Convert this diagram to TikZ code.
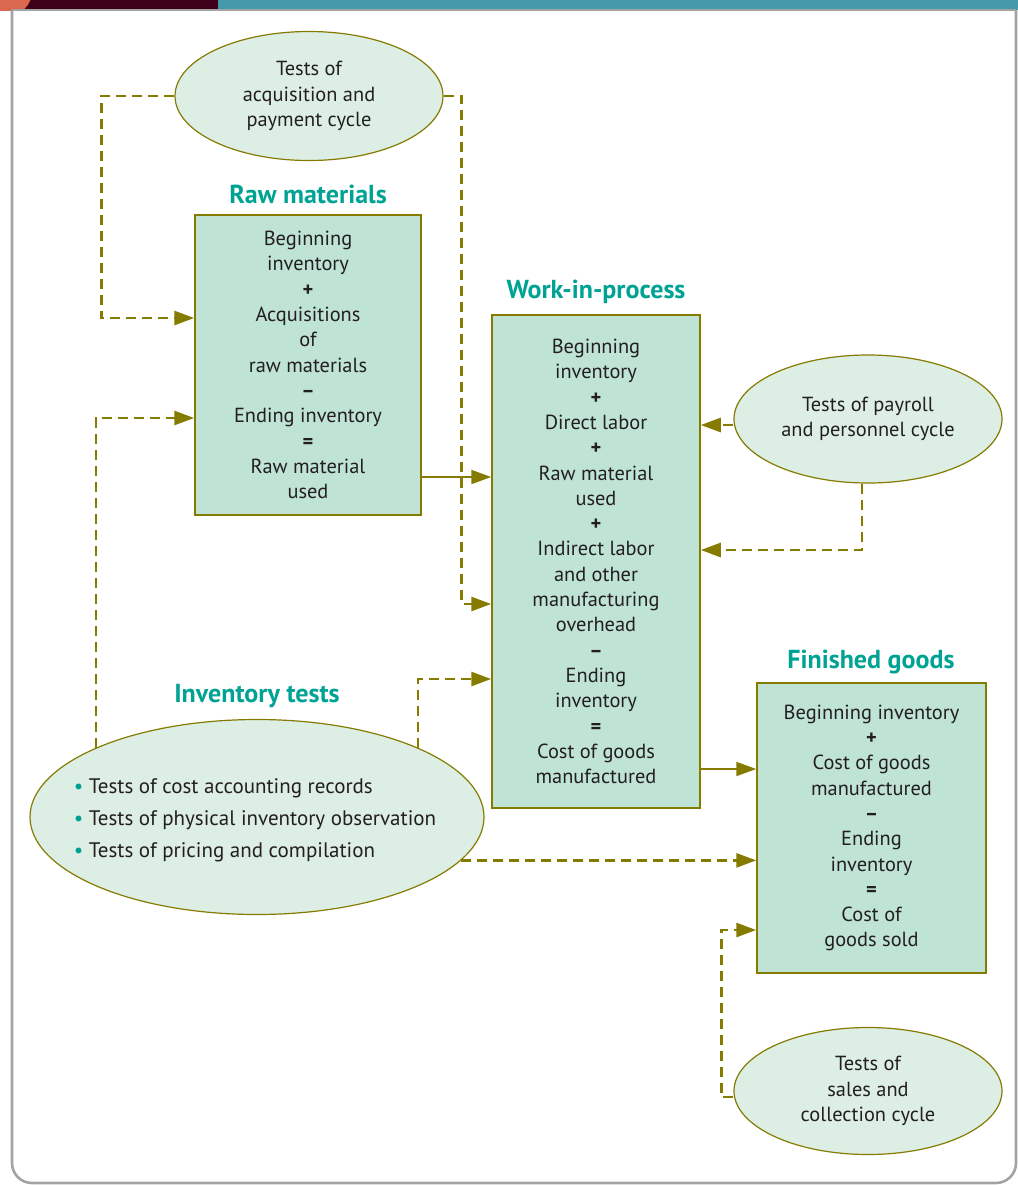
\documentclass[tikz,border=0pt]{standalone}
\usepackage{fontspec}
\setmainfont{PT Sans}
\usetikzlibrary{arrows.meta,shapes.geometric}
\definecolor{olivel}{HTML}{857B00}
\definecolor{boxfill}{HTML}{BFE3D5}
\definecolor{ellfill}{HTML}{DDEEE5}
\definecolor{tealt}{HTML}{00A393}
\definecolor{inkt}{HTML}{231F20}
\definecolor{maroonbar}{HTML}{3D0018}
\definecolor{tealbar}{HTML}{4499AA}
\definecolor{orangec}{HTML}{D9684F}
\definecolor{framegray}{HTML}{A3A3A3}

\begin{document}
\begin{tikzpicture}[x=0.5pt,y=-0.5pt,>={Triangle[length=10pt,width=7pt]},
  acct/.style={draw=olivel,line width=0.75pt,fill=boxfill,align=center,text=inkt,
    font=\fontsize{10.2}{12.65}\selectfont,inner sep=0pt},
  cyc/.style={draw=olivel,line width=0.6pt,fill=ellfill,ellipse,inner sep=0pt,
    align=center,text=inkt,font=\fontsize{10.2}{12.7}\selectfont},
  ttl/.style={text=tealt,font=\bfseries\fontsize{13}{15}\selectfont},
  dline/.style={draw=olivel,line width=1.4pt,dash pattern=on 5pt off 3pt,->},
  sline/.style={draw=olivel,line width=1pt,->}]
  \useasboundingbox (0,0) rectangle (1018,1185);
  % header bar and frame
  \fill[maroonbar] (12,0) rectangle (218,10);
  \fill[tealbar] (218,0) rectangle (1018,10);
  \begin{scope}
    \clip (0,0) rectangle (40,10);
    \fill[orangec] (3,-12) circle (15pt);
  \end{scope}
  \draw[framegray,line width=1pt] (12,10) -- (1016,10);
  \draw[framegray,line width=1.3pt,rounded corners=10pt] (12,10) -- (12,1183) -- (1016,1183) -- (1016,10);

  % cycles
  \node[cyc,minimum width=134pt,minimum height=64.5pt] (acq) at (309,96)
    {Tests of\\acquisition and\\payment cycle};
  \node[cyc,minimum width=134pt,minimum height=64pt] (pay) at (868,419)
    {Tests of payroll\\and personnel cycle};
  \node[cyc,minimum width=134pt,minimum height=63.5pt] (sales) at (868,1091)
    {Tests of\\sales and\\collection cycle};
  \node[cyc,minimum width=227pt,minimum height=97.5pt] (inv) at (257,817) {};
  \node[align=left,text=inkt,font=\fontsize{10.5}{16}\selectfont] (invlist) at (255,820)
    {{\color{tealt}\textbullet}\ Tests of cost accounting records\\
     {\color{tealt}\textbullet}\ Tests of physical inventory observation\\
     {\color{tealt}\textbullet}\ Tests of pricing and compilation};

  % accounts
  \node[acct,minimum width=113pt,minimum height=150pt] (raw) at (308,365)
    {Beginning\\inventory\\\textbf{+}\\Acquisitions\\of\\raw materials\\\textbf{--}\\
     Ending inventory\\\textbf{=}\\Raw material\\used};
  \node[acct,minimum width=104pt,minimum height=246.5pt] (wip) at (596,561.5)
    {Beginning\\inventory\\\textbf{+}\\Direct labor\\\textbf{+}\\Raw material\\used\\\textbf{+}\\
     Indirect labor\\and other\\manufacturing\\overhead\\\textbf{--}\\Ending\\inventory\\\textbf{=}\\
     Cost of goods\\manufactured};
  \node[acct,minimum width=114.5pt,minimum height=145pt] (fg) at (871.5,828)
    {Beginning inventory\\\textbf{+}\\Cost of goods\\manufactured\\\textbf{--}\\Ending\\inventory\\
     \textbf{=}\\Cost of\\goods sold};

  % titles
  \node[ttl] (rawttl) at (308,194) {Raw materials};
  \node[ttl] (wipttl) at (596,292) {Work-in-process};
  \node[ttl] (fgttl) at (871,662) {Finished goods};
  \node[ttl] (invttl) at (257,696) {Inventory tests};

  % connectors
  \draw[dline] (acq.west) -- ++(-73,0) |- (raw.west |- 0,318);
  \draw[dline] (acq.east) -- ++(18,0) |- (wip.west |- 0,604);
  \draw[dline] (inv.north west) |- (raw.west |- 0,418);
  \draw[dline] (inv.north east) |- (wip.west |- 0,679);
  \draw[dline] (inv.-12.6) -- (inv.-12.6 -| fg.west);
  \draw[sline] (raw.east |- 0,477) -- (wip.west |- 0,477);
  \draw[sline] (wip.east |- 0,769) -- (fg.west |- 0,769);
  \draw[dline] (pay.west |- 0,425) -- (wip.east |- 0,425);
  \draw[dline] ([xshift=-3pt]pay.south) |- (wip.east |- 0,550);
  \draw[dline] (sales.west |- 0,1097) -- ++(-12,0) |- (fg.west |- 0,930);
\end{tikzpicture}
\end{document}
